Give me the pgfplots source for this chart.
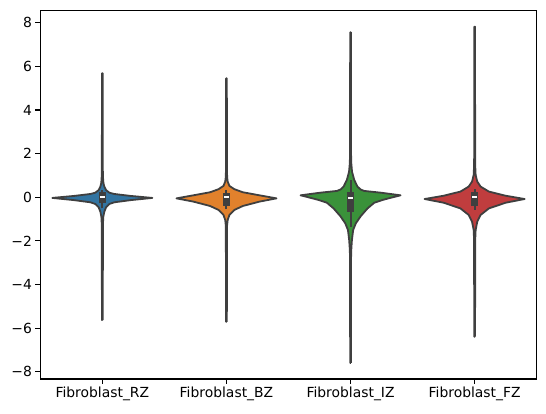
\documentclass[border=0pt]{standalone}
\usepackage{pgfplots}
\pgfplotsset{compat=1.18}
\usepackage{fontspec}
\setmainfont{DejaVu Sans}
\definecolor{cRZ}{HTML}{3274A1}
\definecolor{cBZ}{HTML}{E1812C}
\definecolor{cIZ}{HTML}{3A923A}
\definecolor{cFZ}{HTML}{C03D3E}
\definecolor{edge}{HTML}{3F3F3F}
\begin{document}
\begin{tikzpicture}
\begin{axis}[
  name=ax, at={(0,0)}, anchor=south west,
  scale only axis, width=496.4pt, height=368.7pt,
  xmin=-0.5, xmax=3.5, ymin=-8.33, ymax=8.57,
  xtick={0,1,2,3},
  xticklabels={Fibroblast\_RZ,Fibroblast\_BZ,Fibroblast\_IZ,Fibroblast\_FZ},
  ytick={-8,-6,-4,-2,0,2,4,6,8},
  yticklabels={−8,−6,−4,−2,0,2,4,6,8},
  xtick pos=bottom, ytick pos=left,
  tick align=outside, major tick length=4.86pt,
  tick style={line width=1.1pt, black},
  axis line style={line width=1.1pt},
  ticklabel style={font=\fontsize{13.9}{16}\selectfont},
  clip=false,
]
% violins
\addplot[fill=cRZ, draw=edge, line width=1.8pt, line join=round] coordinates {
(0.003,-5.63)(0.005,-1.2)(0.008,-0.89)(0.016,-0.66)(0.030,-0.46)(0.056,-0.31)(0.097,-0.23)(0.23,-0.13)(0.403,-0.03)(0.23,0.06)(0.097,0.15)(0.056,0.21)(0.030,0.33)(0.016,0.49)(0.009,0.64)(0.006,0.85)(0.004,1.2)(0.003,5.68)
(-0.003,5.68)(-0.004,1.2)(-0.006,0.85)(-0.009,0.64)(-0.016,0.49)(-0.030,0.33)(-0.056,0.21)(-0.097,0.15)(-0.23,0.06)(-0.403,-0.03)(-0.23,-0.13)(-0.097,-0.23)(-0.056,-0.31)(-0.030,-0.46)(-0.016,-0.66)(-0.008,-0.89)(-0.005,-1.2)(-0.003,-5.63)(0.003,-5.63)
};
\addplot[fill=cBZ, draw=edge, line width=1.8pt, line join=round] coordinates {
(1.003,-5.71)(1.005,-1.3)(1.010,-1.04)(1.024,-0.81)(1.064,-0.58)(1.132,-0.40)(1.266,-0.20)(1.403,-0.05)(1.266,0.09)(1.132,0.23)(1.064,0.37)(1.024,0.52)(1.010,0.72)(1.006,0.9)(1.004,1.2)(1.003,5.45)
(0.997,5.45)(0.996,1.2)(0.994,0.9)(0.990,0.72)(0.976,0.52)(0.936,0.37)(0.868,0.23)(0.734,0.09)(0.597,-0.05)(0.734,-0.20)(0.868,-0.40)(0.936,-0.58)(0.976,-0.81)(0.990,-1.04)(0.995,-1.3)(0.997,-5.71)(1.003,-5.71)
};
\addplot[fill=cIZ, draw=edge, line width=1.8pt, line join=round] coordinates {
(2.003,-7.59)(2.004,-2.8)(2.006,-2.4)(2.011,-1.96)(2.021,-1.50)(2.043,-1.19)(2.083,-0.86)(2.137,-0.51)(2.191,-0.25)(2.26,-0.12)(2.32,-0.03)(2.403,0.09)(2.244,0.21)(2.11,0.29)(2.08,0.36)(2.056,0.49)(2.030,0.79)(2.012,1.17)(2.006,1.56)(2.004,2.0)(2.003,7.56)
(1.997,7.56)(1.996,2.0)(1.994,1.56)(1.988,1.17)(1.970,0.79)(1.944,0.49)(1.92,0.36)(1.89,0.29)(1.756,0.21)(1.597,0.09)(1.68,-0.03)(1.74,-0.12)(1.809,-0.25)(1.863,-0.51)(1.917,-0.86)(1.957,-1.19)(1.979,-1.50)(1.989,-1.96)(1.994,-2.4)(1.996,-2.8)(1.997,-7.59)(2.003,-7.59)
};
\addplot[fill=cFZ, draw=edge, line width=1.8pt, line join=round] coordinates {
(3.003,-6.39)(3.005,-1.9)(3.008,-1.5)(3.021,-1.12)(3.048,-0.81)(3.115,-0.51)(3.25,-0.25)(3.403,-0.08)(3.25,0.07)(3.115,0.26)(3.048,0.49)(3.021,0.72)(3.008,1.02)(3.005,1.4)(3.004,1.8)(3.003,7.82)
(2.997,7.82)(2.996,1.8)(2.995,1.4)(2.992,1.02)(2.979,0.72)(2.952,0.49)(2.885,0.26)(2.75,0.07)(2.597,-0.08)(2.75,-0.25)(2.885,-0.51)(2.952,-0.81)(2.979,-1.12)(2.992,-1.5)(2.995,-1.9)(2.997,-6.39)(3.003,-6.39)
};
% whiskers
\addplot[edge, line width=2pt] coordinates {(0,-0.51)(0,0.33)};
\addplot[edge, line width=2pt] coordinates {(1,-0.54)(1,0.35)};
\addplot[edge, line width=2pt] coordinates {(2,-1.35)(2,0.80)};
\addplot[edge, line width=2pt] coordinates {(3,-0.58)(3,0.40)};
% boxes
\addplot[edge, line width=6.5pt] coordinates {(0,-0.28)(0,0.22)};
\addplot[edge, line width=6.5pt] coordinates {(1,-0.40)(1,0.21)};
\addplot[edge, line width=6.5pt] coordinates {(2,-0.66)(2,0.22)};
\addplot[edge, line width=6.5pt] coordinates {(3,-0.38)(3,0.22)};
% medians
\addplot[white, line width=2pt] coordinates {(-0.02,0.02)(0.02,0.02)};
\addplot[white, line width=2pt] coordinates {(0.98,0.02)(1.02,0.02)};
\addplot[white, line width=2pt] coordinates {(1.98,-0.05)(2.02,-0.05)};
\addplot[white, line width=2pt] coordinates {(2.98,0.02)(3.02,0.02)};
\end{axis}
\path (ax.south west) ++(-40.3pt,-34pt) coordinate (bbA);
\path (ax.north east) ++(9.3pt,10.3pt) coordinate (bbB);
\path (bbA) rectangle (bbB);
\end{tikzpicture}
\end{document}
